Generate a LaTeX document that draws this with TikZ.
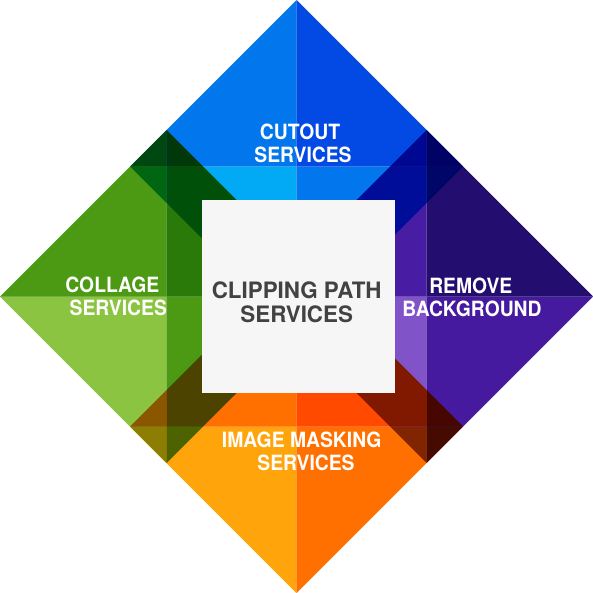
\documentclass[tikz,border=0pt]{standalone}
\usepackage{fontspec}
\newfontfamily\lblfont{texgyreheros-bold.otf}[FakeStretch=0.92]
\newfontfamily\ctrfont{texgyreheros-bold.otf}[FakeStretch=0.99]
\definecolor{bTL}{HTML}{0277ED}
\definecolor{bTR}{HTML}{034AE5}
\definecolor{bBL}{HTML}{02A9F4}
\definecolor{bBR}{HTML}{0277ED}
\definecolor{gTL}{HTML}{4C9A13}
\definecolor{gTR}{HTML}{2A7A0A}
\definecolor{gBL}{HTML}{8BC440}
\definecolor{gBR}{HTML}{4C9A13}
\definecolor{pTL}{HTML}{491CA4}
\definecolor{pTR}{HTML}{230D6F}
\definecolor{pBL}{HTML}{8153C8}
\definecolor{pBR}{HTML}{451A9E}
\definecolor{oTL}{HTML}{FF7000}
\definecolor{oTR}{HTML}{FF4A00}
\definecolor{oBL}{HTML}{FFA40A}
\definecolor{oBR}{HTML}{FF7000}
\definecolor{centertext}{HTML}{424242}
\definecolor{boxfill}{HTML}{F6F6F6}
\newcommand\dquads[6]{%
  \fill[#3] (#1,#2) -- (#1-166.5,#2) -- (#1,#2-166.5) -- cycle;
  \fill[#4] (#1,#2) -- (#1,#2-166.5) -- (#1+166.5,#2) -- cycle;
  \fill[#5] (#1,#2) -- (#1-166.5,#2) -- (#1,#2+166.5) -- cycle;
  \fill[#6] (#1,#2) -- (#1+166.5,#2) -- (#1,#2+166.5) -- cycle;
}
\tikzset{
  lbl/.style={anchor=base, inner sep=0pt, text=white, font=\lblfont\fontsize{21}{23}\selectfont},
  ctr/.style={anchor=base, inner sep=0pt, text=centertext, font=\ctrfont\fontsize{22.6}{24}\selectfont},
}
\begin{document}
\begin{tikzpicture}[x=1pt,y=-1pt]
\useasboundingbox (0,0) rectangle (593,593);
\fill[white] (0,0) rectangle (593,593);
\begin{scope}[blend mode=multiply]
\dquads{296.5}{166.5}{bTL}{bTR}{bBL}{bBR}
\dquads{166.5}{296.5}{gTL}{gTR}{gBL}{gBR}
\dquads{426.5}{296.5}{pTL}{pTR}{pBL}{pBR}
\dquads{296.5}{426.5}{oTL}{oTR}{oBL}{oBR}
\end{scope}
\fill[boxfill] (202,200) rectangle (395,393);
\node[lbl] (cut1) at (300,140) {CUTOUT};
\node[lbl] (cut2) at (303,162.7) {SERVICES};
\node[ctr] (clip1) at (296.7,298.3) {CLIPPING PATH};
\node[ctr] (clip2) at (296.7,322.7) {SERVICES};
\node[lbl] (rem1) at (470.8,293.3) {REMOVE};
\node[lbl] (rem2) at (472,316.7) {BACKGROUND};
\node[lbl] (img1) at (301.7,447.3) {IMAGE MASKING};
\node[lbl] (img2) at (306,470.7) {SERVICES};
\node[lbl] (col1) at (112.3,292.3) {COLLAGE};
\node[lbl] (col2) at (118.3,315.7) {SERVICES};
\end{tikzpicture}
\end{document}
